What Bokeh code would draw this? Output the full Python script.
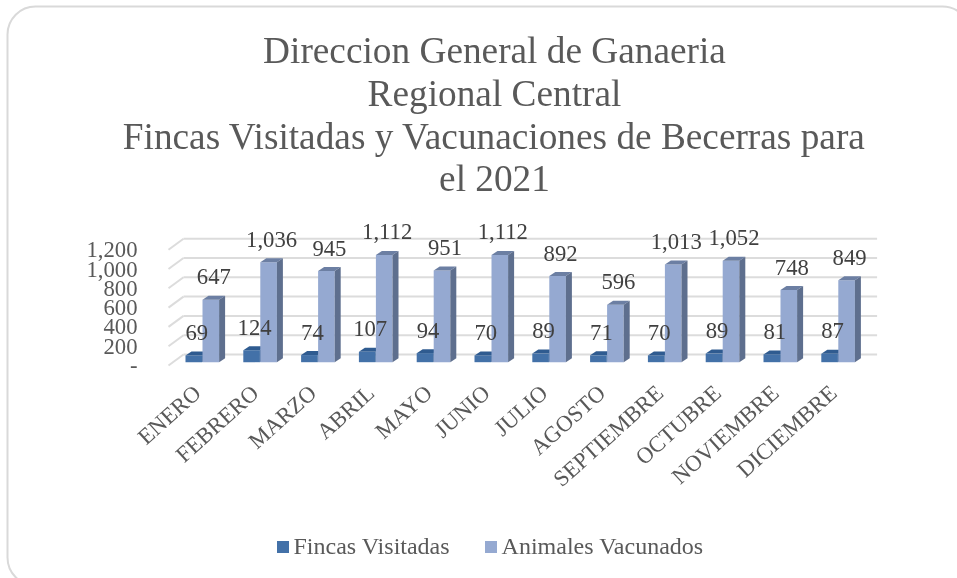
from bokeh.plotting import figure
from bokeh.models import Label, BoxAnnotation, FixedTicker, Legend, LegendItem, Range1d
from bokeh.embed import file_html
from bokeh.resources import INLINE
from bokeh.core.properties import value

months = ["ENERO","FEBRERO","MARZO","ABRIL","MAYO","JUNIO","JULIO","AGOSTO","SEPTIEMBRE","OCTUBRE","NOVIEMBRE","DICIEMBRE"]
fincas = [69,124,74,107,94,70,89,71,70,89,81,87]
animales = [647,1036,945,1112,951,1112,892,596,1013,1052,748,849]
title_lines = ["Direccion General de Ganaeria","Regional Central","Fincas Visitadas y Vacunaciones de Becerras para","el 2021"]
y_ticks = [0,200,400,600,800,1000,1200]
y_tick_labels = {0:"-",200:"200",400:"400",600:"600",800:"800",1000:"1,000",1200:"1,200"}
series_names = ["Fincas Visitadas","Animales Vacunados"]

W,H = 957,578
L,B = 168,365
PX_CAT = 57.8
PX_VAL = 0.0965
FONT = "Liberation Serif"

p = figure(width=W,height=H,output_backend="svg",toolbar_location=None,
           x_range=Range1d(-L/PX_CAT,(W-L)/PX_CAT),y_range=Range1d(-(H-B)/PX_VAL,B/PX_VAL),
           min_border=0)
p.styles={"position":"fixed","left":"0px","top":"0px"}
p.outline_line_color=None
p.background_fill_color="white"
p.border_fill_color="white"
p.xgrid.visible=False
p.ygrid.visible=False

# walls
wdx,wdy = 15/PX_CAT,11/PX_VAL
n=len(months)
p.segment(x0=[0]*7,y0=y_ticks,x1=[wdx]*7,y1=[v+wdy for v in y_ticks],line_color="#dcdcdc",line_width=2)
p.segment(x0=[wdx]*7,y0=[v+wdy for v in y_ticks],x1=[n+wdx]*7,y1=[v+wdy for v in y_ticks],line_color="#dcdcdc",line_width=2)

# bars
bw = 16.6/PX_CAT
bdx,bdy = 6/PX_CAT,4/PX_VAL
base = 3.3/PX_VAL
def bars(vals,start,front,top,side):
    x0=[i+start for i in range(n)]
    x1=[x+bw for x in x0]
    y1=[v+base for v in vals]
    r=p.quad(left=x0,right=x1,bottom=[base]*n,top=y1,fill_color=front,line_color=None)
    p.patches(xs=[[a,b,b+bdx,a+bdx] for a,b in zip(x0,x1)],ys=[[t,t,t+bdy,t+bdy] for t in y1],fill_color=top,line_color=None)
    p.patches(xs=[[b,b+bdx,b+bdx,b] for b in x1],ys=[[base,base+bdy,t+bdy,t] for t in y1],fill_color=side,line_color=None)
    return r,x0,y1
r1,x1s,t1 = bars(fincas,17/PX_CAT,"#4371a8","#2f5b90","#2f5b90")
r2,x2s,t2 = bars(animales,34/PX_CAT,"#95a9d1","#6c7fa3","#5e6f8e")

# data labels
for vals,xs,ts in ((fincas,x1s,t1),(animales,x2s,t2)):
    p.text(x=[x+bw/2 for x in xs],y=ts,text=[f"{v:,}" for v in vals],x_offset=3,y_offset=-23,
           text_align="center",text_baseline="middle",text_font=value(FONT),text_font_size="22.7px",text_color="#404040")

# axes
p.yaxis.fixed_location=0
p.yaxis.ticker=FixedTicker(ticks=y_ticks)
p.yaxis.major_label_overrides=y_tick_labels
p.yaxis.major_label_standoff=25
p.yaxis.major_tick_line_color=None
p.yaxis.minor_tick_line_color=None
p.yaxis.axis_line_color=None
p.yaxis.major_label_text_font=FONT
p.yaxis.major_label_text_font_size="22.7px"
p.yaxis.major_label_text_color="#595959"
p.xaxis.fixed_location=0
p.xaxis.ticker=FixedTicker(ticks=[i+0.5 for i in range(n)])
p.xaxis.major_label_overrides={i+0.5:m for i,m in enumerate(months)}
p.xaxis.major_label_orientation=0.733
p.xaxis.major_label_standoff=18
p.xaxis.major_tick_line_color=None
p.xaxis.minor_tick_line_color=None
p.xaxis.axis_line_color=None
p.xaxis.major_label_text_font=FONT
p.xaxis.major_label_text_font_size="22.7px"
p.xaxis.major_label_text_color="#595959"

# title
for line,yb in zip(title_lines,[50,92.5,135.5,178]):
    p.add_layout(Label(x=494,y=H-yb,x_units="screen",y_units="screen",text=line,text_align="center",text_baseline="alphabetic",
                       text_font=FONT,text_font_size="37.3px",text_color="#595959"))

# border
p.add_layout(BoxAnnotation(left=7,right=970,top=H-6,bottom=H-585,left_units="screen",right_units="screen",top_units="screen",bottom_units="screen",
                           fill_alpha=0,line_color="#d9d9d9",line_alpha=1,line_width=2,border_radius=28,level="underlay"))

# legend
leg=Legend(items=[LegendItem(label=series_names[0],renderers=[r1]),LegendItem(label=series_names[1],renderers=[r2])],
           orientation="horizontal",location=(274.5,H-560),glyph_width=15,glyph_height=15,label_standoff=4,spacing=33,
           padding=0,margin=0,border_line_color=None,background_fill_alpha=0,
           label_text_font=FONT,label_text_font_size="24px",label_text_color="#595959")
p.add_layout(leg)

open("out.html","w").write(file_html(p,INLINE))
